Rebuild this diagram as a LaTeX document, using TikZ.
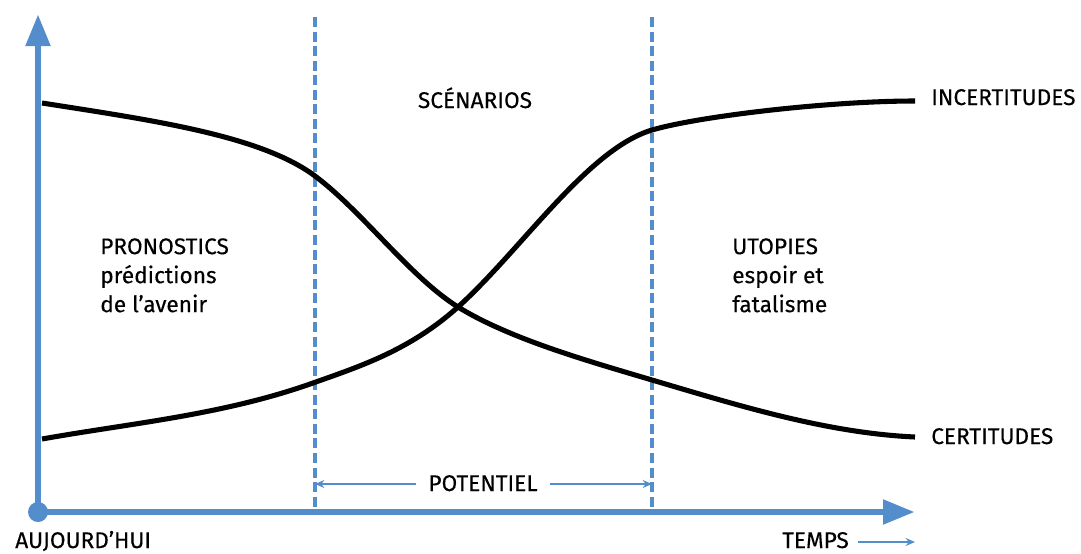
\documentclass[tikz,border=0pt]{standalone}
\usepackage{fontspec}
\setmainfont{Fira Sans}[FakeBold=0.25]
\usetikzlibrary{arrows.meta}
\definecolor{axisblue}{RGB}{84,141,204}

\begin{document}
\begin{tikzpicture}[x=0.75pt,y=0.75pt,yscale=-1,xscale=1,
  lbl/.style={inner sep=0.75pt, font=\fontsize{17}{21.75}\selectfont},
  axis/.style={color=axisblue, line width=5.2pt},
  limit/.style={color=axisblue, line width=3pt, dash pattern=on 7.5pt off 3.4pt},
  span/.style={color=axisblue, line width=0.9pt, -{Stealth[length=7pt,width=6pt]}},
  trend/.style={line width=3.8pt}]
\useasboundingbox (0,0) rectangle (1081,553);

\coordinate (O) at (38,512);
\coordinate (ytop) at (38,14);
\coordinate (xend) at (915,512);
\coordinate (d1top) at (315,17);
\coordinate (d1bot) at (315,512);
\coordinate (d2top) at (652,17);
\coordinate (d2bot) at (652,512);

%Straight Lines: axes
\draw [axis, -{Triangle[length=24pt,width=17.5pt]}]  (O) -- (ytop) ;
\draw [axis, -{Triangle[length=24pt,width=17.5pt]}]  (O) -- (xend) ;
\fill [axisblue] (O) circle [radius=7.5pt] ;

%Straight Lines: dashed limits
\draw [limit]  (d1top) -- (d1bot) ;
\draw [limit]  (d2top) -- (d2bot) ;

%Shape: Curve (certitudes)
\draw [trend] (42,103) .. controls (150,120) and (260,135) .. (315,176) .. controls (363,212) and (410,277) .. (458,307) .. controls (510,339) and (588,361) .. (652,380) .. controls (740,406) and (827,433) .. (915,437) ;
%Shape: Curve (incertitudes)
\draw [trend] (42,439) .. controls (132,423) and (223,415) .. (313,383) .. controls (361,366) and (410,350) .. (458,307) .. controls (522,249) and (588,149) .. (652,130) .. controls (700,116) and (830,101) .. (915,101) ;

% Text Node
\node [lbl, anchor=base] (scen) at (475,108) {SCÉNARIOS};
% Text Node
\node [lbl, anchor=base west] (incert) at (930,105) {INCERTITUDES};
% Text Node
\node [lbl, anchor=base west] (cert) at (930,444) {CERTITUDES};
% Text Node
\node [lbl, anchor=north west, align=left] (prono) at (99,237) {PRONOSTICS\\prédictions\\de l’avenir};
% Text Node
\node [lbl, anchor=north west, align=left] (utop) at (731,237) {UTOPIES\\espoir et\\fatalisme};

% Text Node
\node [lbl, anchor=base] (pot) at (483,491) {POTENTIEL};
\coordinate (potl) at (315,484);
\coordinate (potr) at (652,484);
\draw [span]  ([xshift=-8pt]pot.west |- potl) -- (potl) ;
\draw [span]  ([xshift=8pt]pot.east |- potr) -- (potr) ;

% Text Node
\node [lbl, anchor=base west] (today) at (14,548) {AUJOURD’HUI};
% Text Node
\node [lbl, anchor=base east] (temps) at (850,548) {TEMPS};
\coordinate (tempsend) at (915,542);
\draw [span]  ([xshift=6pt]temps.east |- tempsend) -- (tempsend) ;

\end{tikzpicture}
\end{document}
